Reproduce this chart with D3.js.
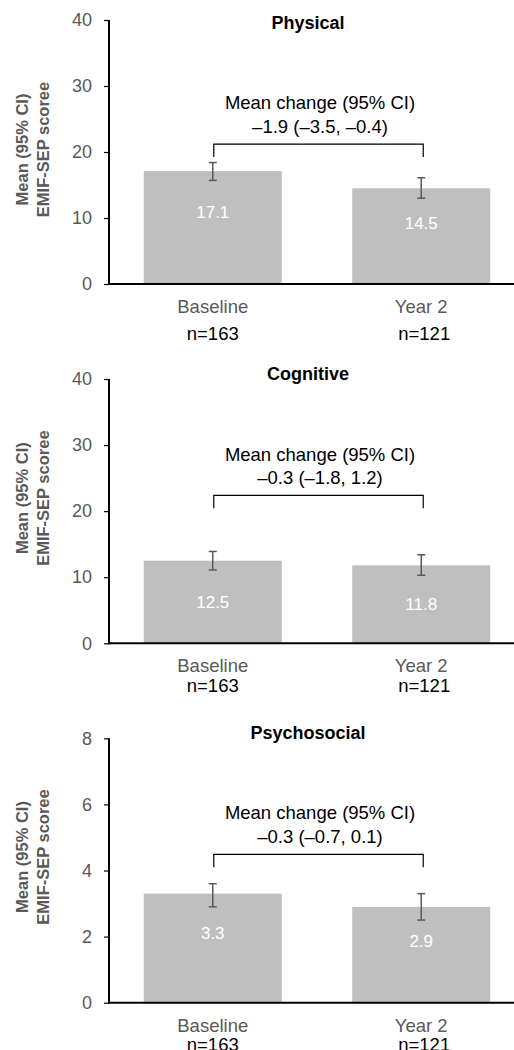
<!DOCTYPE html>
<html>
<head>
<meta charset="utf-8">
<script src="https://cdn.jsdelivr.net/npm/d3@7"></script>
<style>
  body { margin: 0; background: #fff; }
  svg { display: block; font-family: "Liberation Sans", Arial, sans-serif; }
</style>
</head>
<body>
<div id="chart"></div>
<script>
// chart values
const groups = ["Baseline", "Year 2"];
const nLabels = ["n=163", "n=121"];
const domains = ["Physical", "Cognitive", "Psychosocial"];
const means = [[17.1, 14.5], [12.5, 11.8], [3.3, 2.9]];
const ciLow = [[15.7, 13.0], [11.1, 10.3], [2.9, 2.5]];
const ciHigh = [[18.4, 16.1], [13.9, 13.4], [3.6, 3.3]];
const yMax = [40, 40, 8];
const yTicks = [[0, 10, 20, 30, 40], [0, 10, 20, 30, 40], [0, 2, 4, 6, 8]];
const changeTitle = "Mean change (95% CI)";
const changeText = ["–1.9 (–3.5, –0.4)", "–0.3 (–1.8, 1.2)", "–0.3 (–0.7, 0.1)"];
const yTitle = ["Mean (95% CI)", "EMIF-SEP scoree"];

// per panel layout (pixels), kept apart from the data
const layout = [
  { top: 20, bottom: 284, titleDy: 9.3, changeDy: 89, bracket: 21.2, labelFrac: 0.64, nDy: 56, yTitleShift: -2.5 },
  { top: 379, bottom: 643.3, titleDy: 1, changeDy: 81.5, bracket: 22.4, labelFrac: 0.5, nDy: 49, yTitleShift: -13 },
  { top: 738.3, bottom: 1002.7, titleDy: 1, changeDy: 81, bracket: 4.49, labelFrac: 0.64, nDy: 48.5, yTitleShift: -13.5 }
];

const width = 514, height = 1050;
const axisX = 109;

const svg = d3.select('#chart').append('svg')
    .attr('width', width)
    .attr('height', height);

const x = d3.scaleBand()
    .domain(groups)
    .range([120, 514])
    .paddingInner(0.338)
    .paddingOuter(0.114);

domains.forEach((name, p) => {
    const L = layout[p];
    const y = d3.scaleLinear().domain([0, yMax[p]]).range([L.bottom, L.top]);
    const g = svg.append('g').attr('class', 'panel');
    const rows = groups.map((grp, i) => ({
        grp, mean: means[p][i], lo: ciLow[p][i], hi: ciHigh[p][i], n: nLabels[i]
    }));

    // bars
    g.selectAll('rect.bar')
        .data(rows)
        .enter().append('rect')
        .attr('class', 'bar')
        .attr('x', d => x(d.grp))
        .attr('width', x.bandwidth())
        .attr('y', d => y(d.mean))
        .attr('height', d => y(0) - y(d.mean))
        .attr('fill', '#bfbfbf');

    // error bars
    const eb = g.selectAll('g.err')
        .data(rows)
        .enter().append('g')
        .attr('class', 'err')
        .attr('stroke', '#595959')
        .attr('stroke-width', 1.5);
    const cx = d => x(d.grp) + x.bandwidth() / 2;
    eb.append('line')
        .attr('x1', cx).attr('x2', cx)
        .attr('y1', d => y(d.lo)).attr('y2', d => y(d.hi));
    eb.append('line')
        .attr('x1', d => cx(d) - 4).attr('x2', d => cx(d) + 4)
        .attr('y1', d => y(d.lo)).attr('y2', d => y(d.lo));
    eb.append('line')
        .attr('x1', d => cx(d) - 4).attr('x2', d => cx(d) + 4)
        .attr('y1', d => y(d.hi)).attr('y2', d => y(d.hi));

    // value labels inside the bars
    g.selectAll('text.val')
        .data(rows)
        .enter().append('text')
        .attr('class', 'val')
        .attr('x', cx)
        .attr('y', d => y(d.mean * L.labelFrac) + 6)
        .attr('text-anchor', 'middle')
        .attr('fill', '#fff')
        .style('font-size', '17px')
        .text(d => d.mean.toFixed(1));

    // y axis
    const yAxis = g.append('g')
        .attr('transform', `translate(${axisX},0)`)
        .call(d3.axisLeft(y).tickValues(yTicks[p]).tickSize(5).tickPadding(12).tickFormat(d3.format('d')));
    yAxis.select('.domain').remove();
    yAxis.selectAll('.tick line').attr('stroke', '#000').attr('stroke-width', 1.2);
    yAxis.selectAll('.tick text')
        .attr('fill', '#595959')
        .style('font-size', '18px')
        .style('font-family', '"Liberation Sans", Arial, sans-serif');
    g.append('line')
        .attr('x1', axisX).attr('x2', axisX)
        .attr('y1', L.top).attr('y2', L.bottom + 1)
        .attr('stroke', '#000').attr('stroke-width', 2);

    // x axis line
    g.append('line')
        .attr('x1', axisX - 1).attr('x2', width)
        .attr('y1', L.bottom).attr('y2', L.bottom)
        .attr('stroke', '#000').attr('stroke-width', 2);

    // category and n labels
    g.selectAll('text.cat')
        .data(rows)
        .enter().append('text')
        .attr('x', cx)
        .attr('y', L.bottom + 29)
        .attr('text-anchor', 'middle')
        .attr('fill', '#595959')
        .style('font-size', '18.5px')
        .text(d => d.grp);
    g.selectAll('text.n')
        .data(rows)
        .enter().append('text')
        .attr('x', (d, i) => cx(d) + (i === 1 ? 3 : 0))
        .attr('y', L.bottom + L.nDy)
        .attr('text-anchor', 'middle')
        .attr('fill', '#000')
        .style('font-size', '18.5px')
        .text(d => d.n);

    // panel title
    const midX = (cx(rows[0]) + cx(rows[1])) / 2;
    g.append('text')
        .attr('x', 308)
        .attr('y', L.top + L.titleDy)
        .attr('text-anchor', 'middle')
        .style('font-size', '18px')
        .style('font-weight', 'bold')
        .text(name);

    // mean change annotation and bracket
    g.append('text')
        .attr('x', midX + 3)
        .attr('y', L.top + L.changeDy)
        .attr('text-anchor', 'middle')
        .style('font-size', '18.5px')
        .text(changeTitle);
    g.append('text')
        .attr('x', midX + 3)
        .attr('y', L.top + L.changeDy + 23.5)
        .attr('text-anchor', 'middle')
        .style('font-size', '18.5px')
        .text(changeText[p]);

    const by = y(L.bracket);
    const bx0 = cx(rows[0]) + 1, bx1 = cx(rows[1]) + 2;
    g.append('path')
        .attr('d', `M${bx0},${by + 13}V${by}H${bx1}V${by + 13}`)
        .attr('fill', 'none')
        .attr('stroke', '#000')
        .attr('stroke-width', 1.2);

    // y axis title
    const yMid = (L.top + L.bottom) / 2 + L.yTitleShift;
    const yt = g.append('text')
        .attr('transform', `translate(27.5,${yMid}) rotate(-90)`)
        .attr('text-anchor', 'middle')
        .attr('fill', '#595959')
        .style('font-size', '16.5px')
        .style('font-weight', 'bold');
    yt.append('tspan').attr('x', 0).attr('dy', 0).text(yTitle[0]);
    yt.append('tspan').attr('x', 0).attr('dy', 21).text(yTitle[1]);
});
</script>
</body>
</html>
